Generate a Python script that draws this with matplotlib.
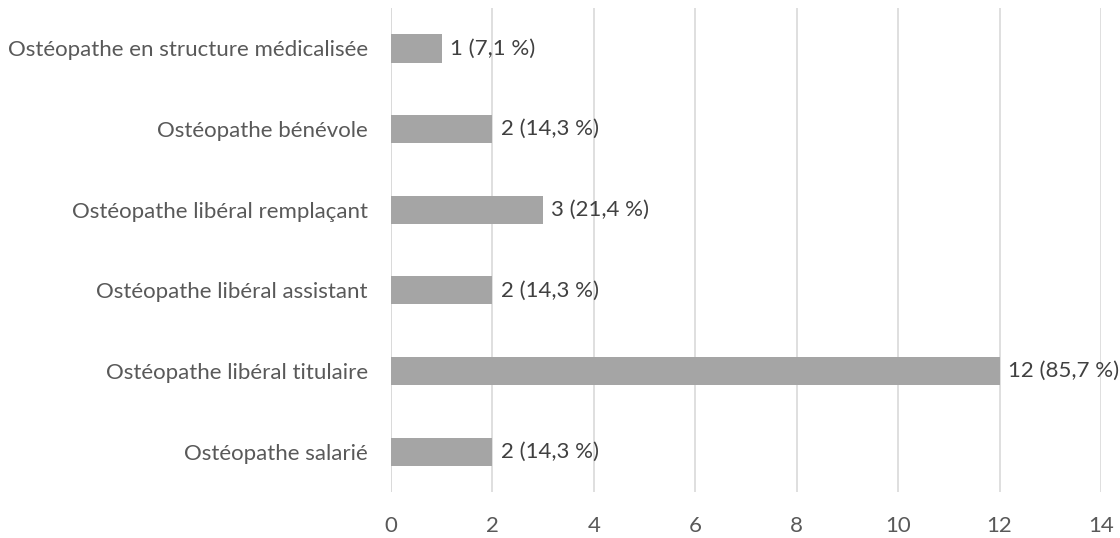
import matplotlib.pyplot as plt

categories = ["Ostéopathe salarié", "Ostéopathe libéral titulaire",
              "Ostéopathe libéral assistant", "Ostéopathe libéral remplaçant",
              "Ostéopathe bénévole", "Ostéopathe en structure médicalisée"]
counts = [2, 12, 2, 3, 2, 1]
percents = ["14,3", "85,7", "14,3", "21,4", "14,3", "7,1"]
xticks = [0, 2, 4, 6, 8, 10, 12, 14]

plt.rcParams['font.family'] = ['Lato', 'DejaVu Sans']
text_color = '#595959'

fig = plt.figure(figsize=(11.2, 5.38), dpi=100)
ax = fig.add_axes([0.349, 0.0855, 0.634, 0.8995])

y = list(range(len(categories)))
ax.barh(y, counts, height=0.35, color='#A5A5A5', zorder=3)
for yi, c, p in zip(y, counts, percents):
    ax.annotate(f"{c} ({p} %)", (c, yi), xytext=(6, 0), textcoords='offset points',
                va='center', ha='left', fontsize=16, color='#404040', zorder=4,
                annotation_clip=False)

ax.set_xlim(0, 14)
ax.set_ylim(-0.5, len(categories) - 0.5)
ax.set_xticks(xticks)
ax.set_yticks(y)
ax.set_yticklabels(categories)
ax.grid(axis='x', color='#D9D9D9', linewidth=1.2, zorder=0)
ax.axvline(0, color='#D9D9D9', linewidth=1.2, zorder=1)
for s in ax.spines.values():
    s.set_visible(False)
ax.tick_params(axis='both', length=0, labelsize=16, labelcolor=text_color)
ax.tick_params(axis='y', pad=16.5)
ax.tick_params(axis='x', pad=17)

fig.savefig('out.png', dpi=100)
